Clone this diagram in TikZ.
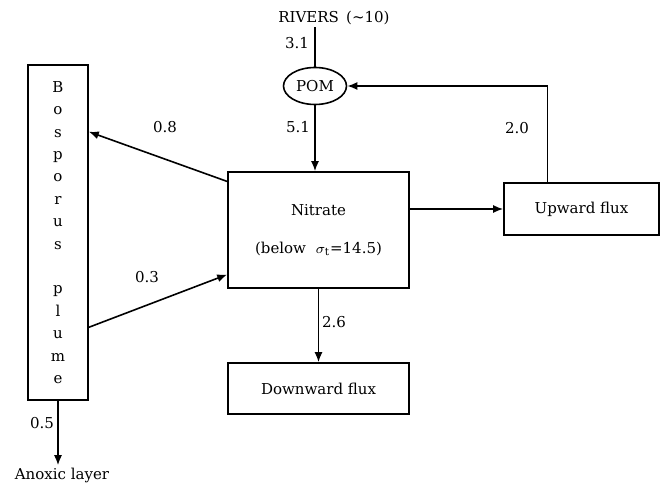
\documentclass[tikz,border=0pt]{standalone}
\usepackage{fontspec}
\setmainfont{DejaVu Serif}
\usetikzlibrary{arrows.meta,shapes.geometric}

\begin{document}
\begin{tikzpicture}[x=0.5pt,y=-0.5pt,>={Latex[length=5pt,width=4pt]},
  box/.style={draw,rectangle,line width=0.8pt,inner sep=0pt,align=center},
  flow/.style={->,black,line width=0.8pt},
  every node/.style={font=\fontsize{7.5}{11.2}\selectfont}]
\useasboundingbox (0,0) rectangle (664,485);

\node[box,minimum width=30pt,minimum height=167.5pt] (bos) at (58,232.5) {B\\o\\s\\p\\o\\r\\u\\s\\[11.2pt]p\\l\\u\\m\\e};
\node[draw,ellipse,line width=0.8pt,inner sep=0pt,minimum width=31.5pt,minimum height=18.5pt] (pom) at (315,86) {POM};
\node[box,minimum width=90.5pt,minimum height=58pt] (nit) at (318.5,230) {Nitrate\\[8pt](below \ $\sigma_{\mathrm{t}}$=14.5)};
\node[box,minimum width=77.5pt,minimum height=26pt] (up) at (581.5,209) {Upward flux};
\node[box,minimum width=90.5pt,minimum height=25.5pt] (down) at (318.5,388.5) {Downward flux};
\node[inner sep=1pt] (riv) at (334,18) {RIVERS \,(\textasciitilde10)};
\node[inner sep=1pt] (anox) at (62,475) {Anoxic layer};

\draw[line width=0.8pt] (pom.north |- riv.south) -- (pom.north);
\path[flow] (pom.south) edge (pom.south |- nit.north);
\path[flow] (nit.152) edge (bos.73.5);
\path[flow] (bos.-72.4) edge (nit.206.4);
\path[flow] (up.west -| nit.east) edge (up.west);
\draw[flow] ([xshift=-17pt]up.north) |- (pom.east);
\path[flow] (nit.south) edge (down.north);
\path[flow] (bos.south) edge (bos.south |- anox.north);

\node (l31) at (297,43) {3.1};
\node (l51) at (298,127) {5.1};
\node (l08) at (165,127) {0.8};
\node (l03) at (147,277) {0.3};
\node (l20) at (517,128) {2.0};
\node (l26) at (334,322) {2.6};
\node (l05) at (42,423) {0.5};
\end{tikzpicture}
\end{document}
